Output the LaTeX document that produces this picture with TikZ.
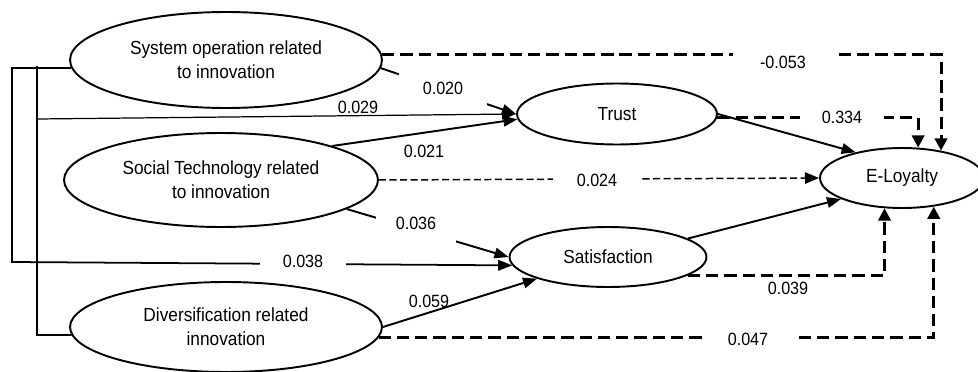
\documentclass[tikz,border=0pt]{standalone}
\usepackage{fontspec}
\setmainfont{Liberation Sans}[FakeStretch=0.91]
\usetikzlibrary{arrows.meta,shapes.geometric}

\begin{document}
\begin{tikzpicture}[x=0.02cm, y=-0.02cm,
    var/.style={draw, ellipse, line width=1.1pt, inner sep=0pt, align=center, font=\fontsize{10.8}{13.6}\selectfont},
    eff/.style={line width=1.1pt, -{Triangle[length=8pt,width=6pt]}},
    link/.style={line width=1pt},
    ind/.style={line width=1.7pt, dash pattern=on 7pt off 3.4pt, -{Triangle[length=7pt,width=7pt]}},
    indthin/.style={line width=0.85pt, dash pattern=on 4pt off 2pt, -{Triangle[length=8pt,width=6.5pt]}},
    coef/.style={fill=white, inner sep=0pt, minimum height=0.46cm, font=\fontsize{10.1}{12}\selectfont},
    val/.style={inner sep=0pt, font=\fontsize{10.1}{12}\selectfont}]
    \clip (0,0) rectangle (978,372);
    \node[var, minimum width=6.24cm, minimum height=1.92cm] (so) at (226,60) {System operation related\\to innovation};
    \node[var, minimum width=6.28cm, minimum height=1.88cm] (st) at (221,180) {Social Technology related\\to innovation};
    \node[var, minimum width=6.24cm, minimum height=1.8cm] (di) at (226,327) {Diversification related\\innovation};
    \node[var, minimum width=4cm, minimum height=1.22cm] (trust) at (617,114) {Trust};
    \node[var, minimum width=3.94cm, minimum height=1.2cm] (sat) at (608,257) {Satisfaction};
    \node[var, minimum width=3.28cm, minimum height=1.2cm] (el) at (902,178) {E-Loyalty};
    \coordinate (a1) at (12,68);
    \coordinate (a2) at (12,262);
    \coordinate (b1) at (37,66);
    \coordinate (b2) at (37,335);
    \coordinate (b3) at (37,119);
    \draw[eff, line width=1pt] (so.183) -- (a1) -- (a2) -- (sat.185);
    \draw[link] (di.183) -- (b2) -- (b1);
    \draw[eff, line width=0.7pt] (b3) -- (trust.west);
    \draw[eff] (so.-3) -- (trust.west);
    \draw[eff] (st.17) -- (trust.183);
    \draw[eff] (st.-13) -- (sat.west);
    \draw[eff] (di.east) -- (sat.197);
    \draw[eff] (trust.east) -- (el.151);
    \draw[eff] (sat.13) -- (el.199);
    \draw[ind] (so.2) -| (el.35);
    \draw[ind] (trust.-2) -| (el.62);
    \draw[indthin] (st.east) -- (el.west);
    \draw[ind] (sat.-13) -| (el.240);
    \draw[ind] (di.-4) -| (el.-42);
    \node[coef, minimum width=2cm] (l1) at (783,62) {-0.053};
    \node[coef, minimum width=1.7cm] (l2) at (842,117) {0.334};
    \node[coef, minimum width=1.78cm, minimum height=0.34cm] (l3) at (597,180) {0.024};
    \node[coef, minimum width=1.76cm, minimum height=0.72cm] (l4) at (443,88) {0.020};
    \node[coef, minimum width=1.6cm, minimum height=0.88cm] (l5) at (416,223) {0.036};
    \node[coef, minimum width=1.74cm] (l6) at (303,261) {0.038};
    \node[coef, minimum width=1.8cm] (l7) at (748,339) {0.047};
    \node[val] (l8) at (358,107) {0.029};
    \node[val] (l9) at (424,151) {0.021};
    \node[val] (l10) at (429,301) {0.059};
    \node[val] (l11) at (788,288) {0.039};
\end{tikzpicture}
\end{document}
